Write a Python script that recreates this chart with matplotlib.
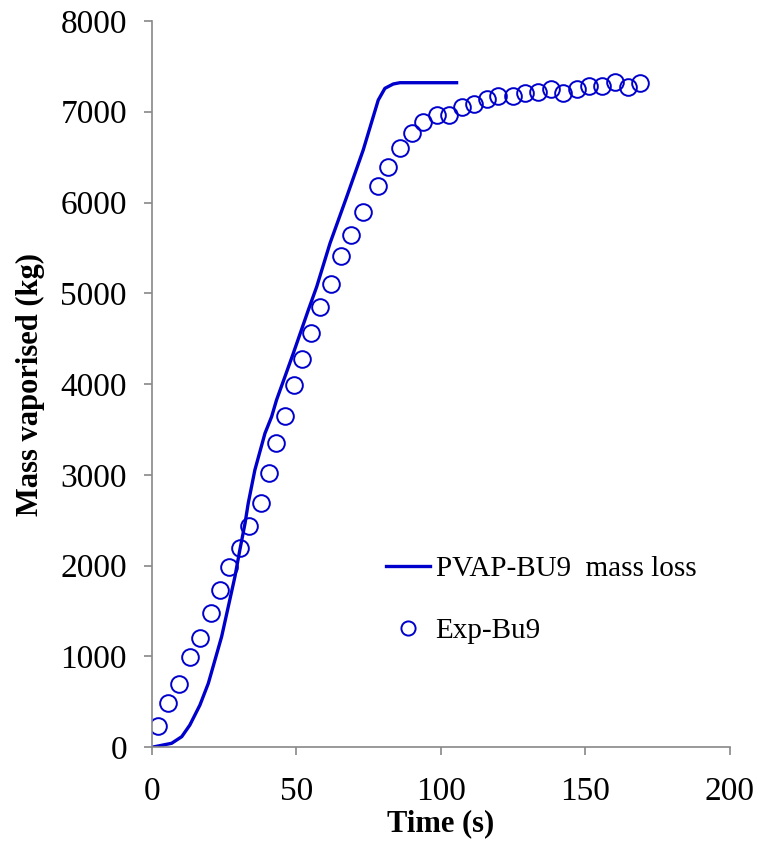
import matplotlib.pyplot as plt

plt.rcParams['font.family'] = ['Liberation Serif', 'DejaVu Serif']

# model curve (PVAP)
tModel = [0, 0.4, 6.8, 10.3, 13.1, 16.6, 19.5, 21.8, 24.1, 26.4, 28.7, 30.4, 32.2, 33.3,
          35.6, 39.1, 41.4, 43.1, 46.0, 48.9, 54.1, 57.0, 61.6, 67.4, 73.1, 78.3, 80.6,
          83.5, 85.8, 105.4]
mModel = [0, 0, 41, 114, 242, 463, 702, 959, 1216, 1546, 1877, 2171, 2465, 2685,
          3052, 3457, 3640, 3824, 4080, 4338, 4815, 5072, 5550, 6064, 6579, 7129, 7258,
          7306, 7320, 7320]

# experiment
tExp = [2.2, 5.6, 9.4, 13.1, 16.6, 20.4, 23.4, 26.7, 30.4, 33.7, 37.6, 40.6, 42.9, 45.9,
        49.1, 51.8, 55.0, 58.2, 61.8, 65.4, 68.8, 73.1, 78.1, 81.6, 85.7, 90.0, 93.8,
        98.5, 102.9, 107.2, 111.5, 115.9, 119.8, 125.0, 129.2, 133.7, 138.1, 142.3,
        147.0, 151.2, 155.6, 160.2, 164.8, 168.9]
mExp = [235, 485, 694, 994, 1198, 1476, 1730, 1987, 2196, 2439, 2685, 3023, 3354, 3648,
        3989, 4273, 4560, 4853, 5100, 5405, 5645, 5892, 6182, 6388, 6597, 6766, 6887,
        6964, 6964, 7056, 7086, 7138, 7174, 7174, 7210, 7215, 7251, 7203,
        7247, 7287, 7287, 7324, 7276, 7313]

blue = '#0000CC'

fig = plt.figure(figsize=(7.58, 8.64), dpi=100)
ax = fig.add_axes([0.2005, 0.1354, 0.7625, 0.8403])

ax.plot(tModel, mModel, color=blue, lw=2.4, label='PVAP-BU9  mass loss')
ax.plot(tExp, mExp, 'o', color=blue, mfc='none', ms=12, mew=1.4, label='Exp-Bu9')

ax.set_xlim(0, 200)
ax.set_ylim(0, 8000)
ax.set_xticks([0, 50, 100, 150, 200])
ax.set_yticks(range(0, 8001, 1000))

for s in ['top', 'right']:
    ax.spines[s].set_visible(False)
for s in ['left', 'bottom']:
    ax.spines[s].set_color('#888888')
    ax.spines[s].set_linewidth(1.2)

ax.tick_params(axis='both', colors='#888888', labelcolor='black', labelsize=24,
               length=6, width=1.2)
ax.tick_params(axis='x', pad=15)
ax.tick_params(axis='y', pad=12)

ax.set_xlabel('Time (s)', fontsize=22, fontweight='bold', labelpad=2)
ax.set_ylabel('Mass vaporised (kg)', fontsize=22, fontweight='bold', labelpad=11)

ax.legend(loc='upper left', bbox_to_anchor=(0.405, 0.264), frameon=False, fontsize=21,
          markerscale=0.85, handlelength=1.5, handletextpad=0.2, labelspacing=1.22,
          borderpad=0, borderaxespad=0)

fig.savefig('out.png', dpi=100)
